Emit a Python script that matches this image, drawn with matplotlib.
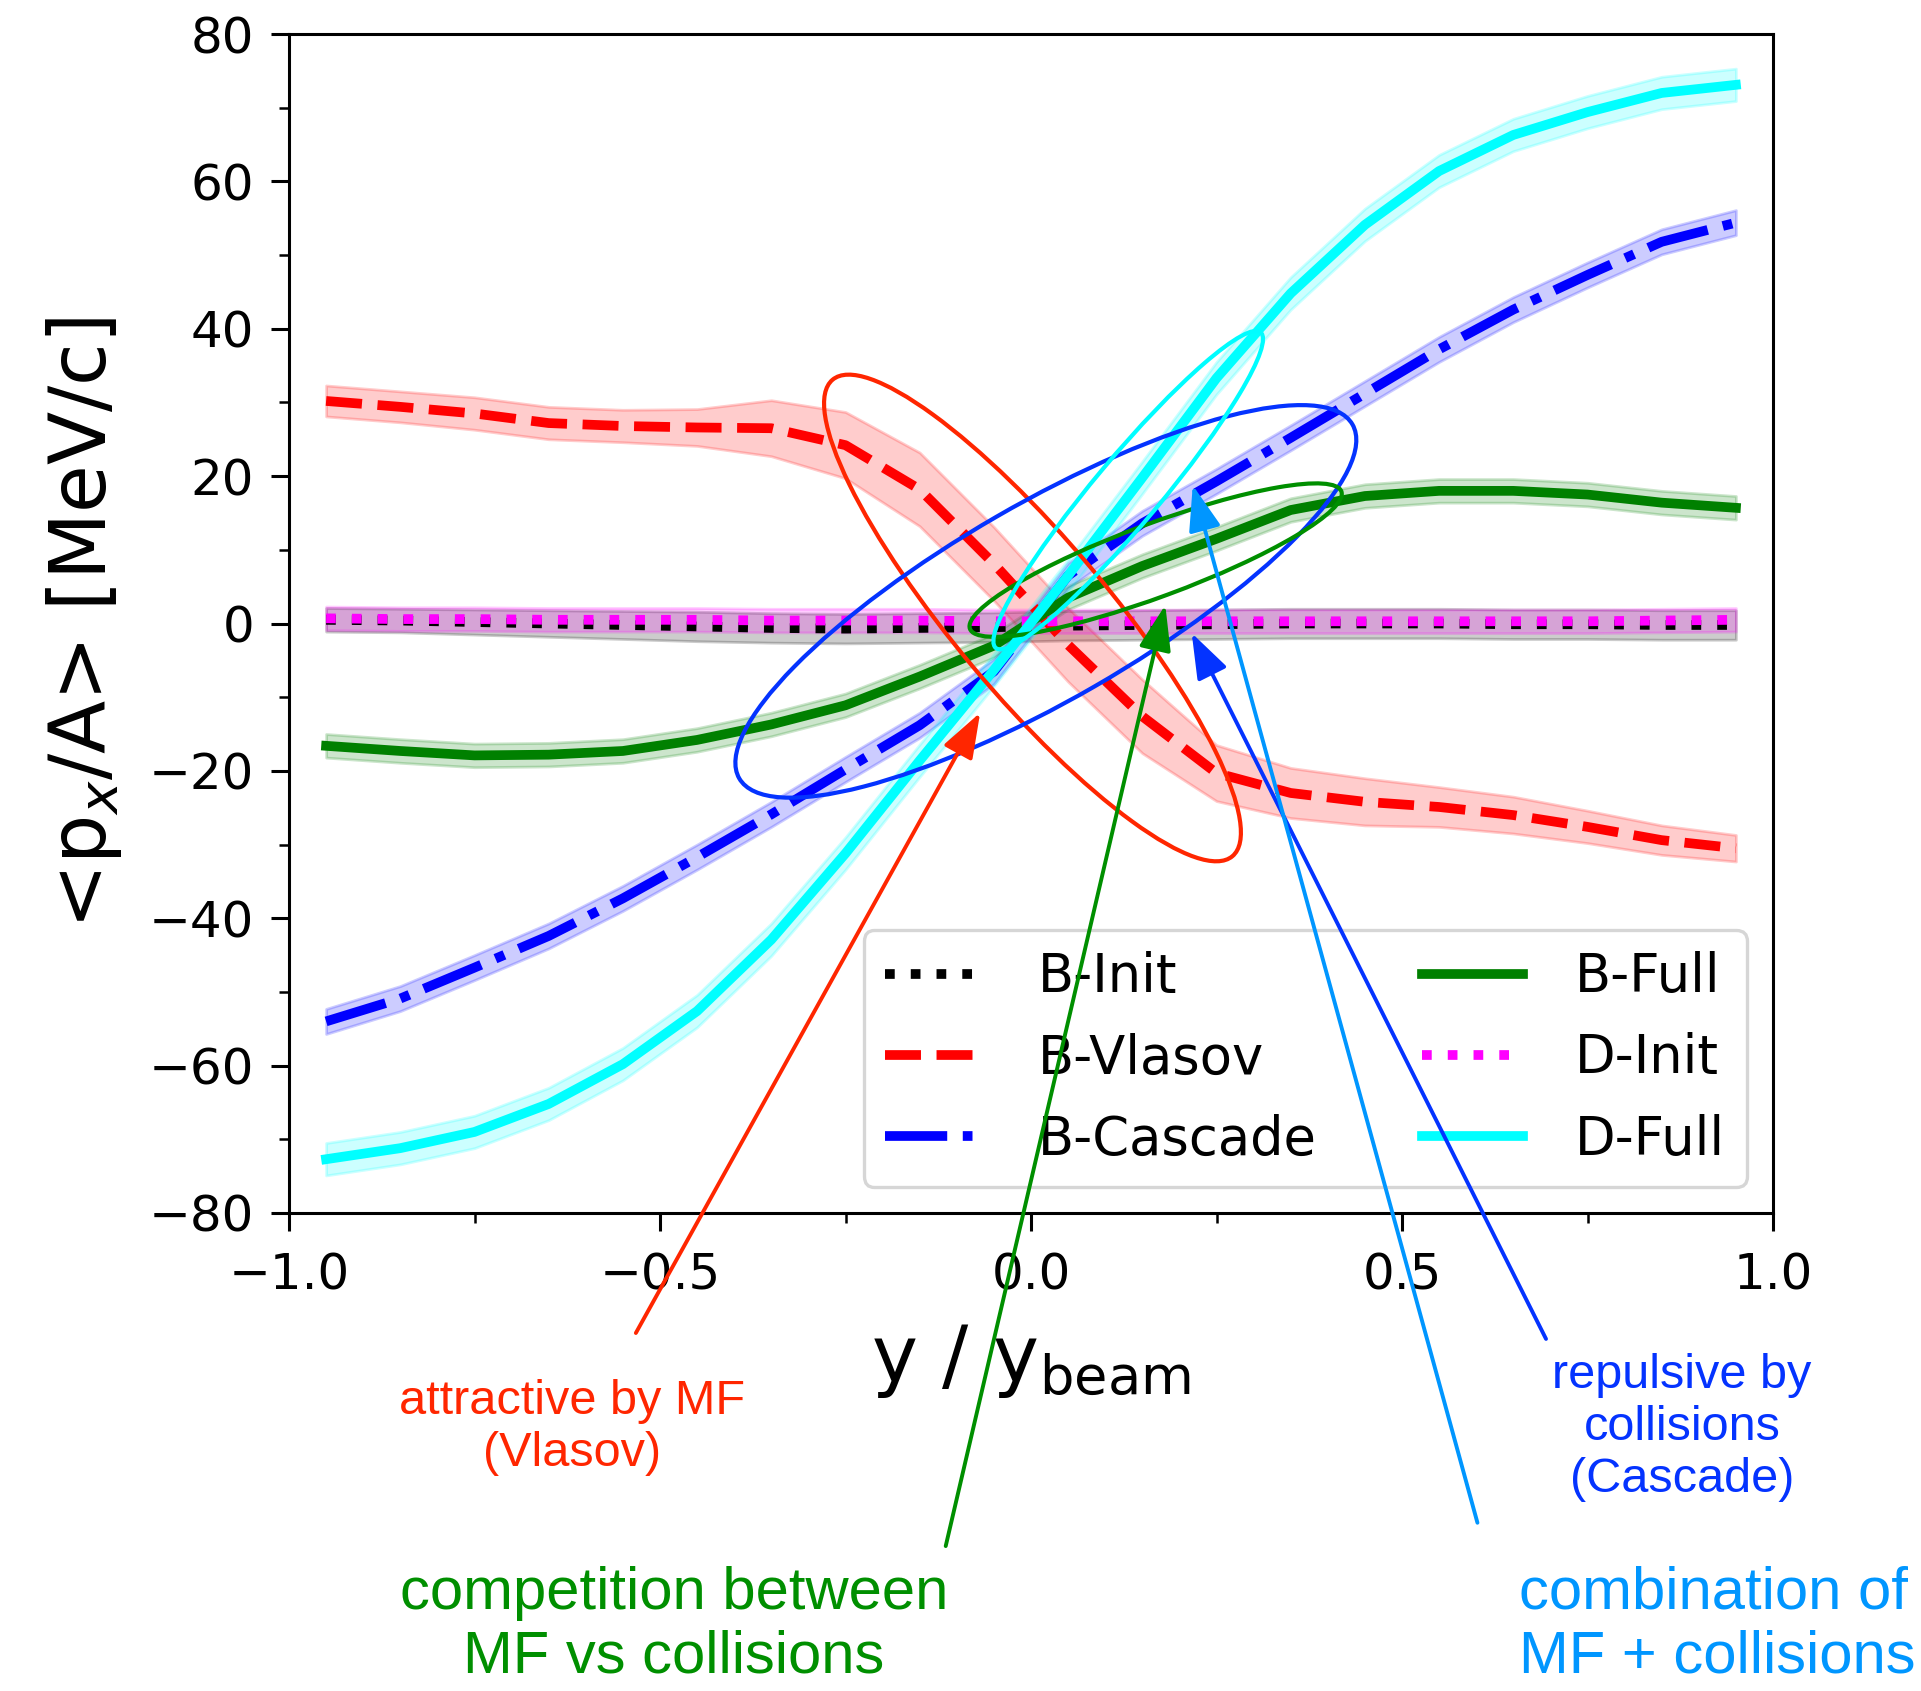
import numpy as np
import matplotlib
matplotlib.use("Agg")
import matplotlib.pyplot as plt
from matplotlib.patches import Ellipse
from matplotlib.transforms import ScaledTranslation
from matplotlib.ticker import MultipleLocator

# rapidity bins (y / y_beam)
y_red = [-0.95, -0.85, -0.75, -0.65, -0.55, -0.45, -0.35, -0.25, -0.15, -0.05,
         0.05, 0.15, 0.25, 0.35, 0.45, 0.55, 0.65, 0.75, 0.85, 0.95]

# <px/A> in MeV/c, with error bands
b_init = [0.5, 0.4, 0.2, 0.0, -0.2, -0.4, -0.6, -0.7, -0.6, -0.5,
          -0.3, -0.2, -0.1, 0.0, 0.0, 0.0, -0.1, -0.1, -0.2, -0.2]
b_init_err = [1.6, 1.6, 1.7, 1.8, 1.9, 2.0, 2.0, 2.0, 2.0, 2.0,
              2.0, 2.0, 2.0, 2.0, 2.0, 2.0, 2.0, 2.0, 2.0, 2.0]

b_vlasov = [30.2, 29.4, 28.5, 27.2, 26.8, 26.6, 26.5, 24.2, 18.2, 8.1,
            -2.9, -12.6, -20.3, -23.0, -24.2, -24.9, -26.0, -27.6, -29.4, -30.5]
b_vlasov_err = [2.1, 2.1, 2.2, 2.2, 2.2, 2.5, 3.8, 4.5, 5.0, 5.0,
                5.0, 5.0, 3.8, 3.4, 3.2, 2.7, 2.5, 2.2, 2.0, 1.8]

b_cascade = [-54.0, -50.9, -46.7, -42.4, -37.3, -31.7, -25.9, -19.8, -13.8, -6.5,
             6.5, 13.6, 19.3, 25.2, 31.2, 37.2, 42.6, 47.3, 51.8, 54.4]
b_cascade_err = [1.7] * 20

b_full = [-16.6, -17.3, -17.9, -17.8, -17.3, -15.8, -13.7, -11.1, -7.2, -3.0,
          3.5, 7.8, 11.5, 15.4, 17.3, 18.0, 18.0, 17.5, 16.4, 15.7]
b_full_err = [1.6] * 20

d_init = [0.7, 0.6, 0.6, 0.5, 0.5, 0.5, 0.4, 0.4, 0.4, 0.3,
          0.3, 0.3, 0.3, 0.3, 0.3, 0.3, 0.3, 0.3, 0.4, 0.5]
d_init_err = [1.6] * 20

d_full = [-72.7, -71.2, -69.0, -65.2, -59.8, -52.6, -42.9, -31.2, -18.6, -6.3,
          6.5, 19.8, 33.3, 44.8, 54.1, 61.4, 66.3, 69.4, 72.0, 73.1]
d_full_err = [2.2] * 20

series = [
    ("B-Init", b_init, b_init_err, "black", ":"),
    ("B-Vlasov", b_vlasov, b_vlasov_err, "red", "--"),
    ("B-Cascade", b_cascade, b_cascade_err, "blue", "-."),
    ("B-Full", b_full, b_full_err, "green", "-"),
    ("D-Init", d_init, d_init_err, "magenta", ":"),
    ("D-Full", d_full, d_full_err, "cyan", "-"),
]

fig = plt.figure(figsize=(19.21, 16.91), dpi=100)
ax = fig.add_axes([289 / 1921, 1 - 1213 / 1691, 1484 / 1921, 1179 / 1691])

x = np.array(y_red)
for name, val, err, col, ls in series:
    val = np.array(val)
    err = np.array(err)
    ax.fill_between(x, val - err, val + err, color=col, alpha=0.2, lw=2)
    ax.plot(x, val, ls=ls, color=col, lw=7, label=name)

ax.set_xlim(-1, 1)
ax.set_ylim(-80, 80)
ax.xaxis.set_major_locator(MultipleLocator(0.5))
ax.xaxis.set_minor_locator(MultipleLocator(0.25))
ax.yaxis.set_major_locator(MultipleLocator(20))
ax.yaxis.set_minor_locator(MultipleLocator(10))
ax.tick_params(which="major", length=13, width=2.2, labelsize=36)
ax.tick_params(which="minor", length=7, width=1.8)
ax.tick_params(axis="x", which="major", pad=15)
ax.tick_params(axis="y", which="major", pad=12)
for sp in ax.spines.values():
    sp.set_linewidth(2.2)

ax.set_xlabel(r"y / y$_\mathrm{beam}$", fontsize=56, labelpad=16)
ax.set_ylabel(r"<p$_x$/A> [MeV/c]", fontsize=56, labelpad=18)

leg = ax.legend(loc="lower right", ncol=2, fontsize=38, labelspacing=0.55,
                handlelength=1.9, handletextpad=1.0)
leg.get_frame().set_linewidth(2.4)


def ring(cx, cy, w, h, angle, col):
    # ellipse sized in inches, centred on a data point
    tr = fig.dpi_scale_trans + ScaledTranslation(cx, cy, ax.transData)
    ax.add_patch(Ellipse((0, 0), w, h, angle=angle, transform=tr, fill=False,
                         ec=col, lw=3.0, zorder=4, clip_on=False))


ring(0.002, 0.75, 6.22, 1.54, -50, "#ff2600")
ring(0.020, 3.0, 7.08, 1.96, 30, "#0433ff")
ring(0.168, 8.6, 3.96, 0.73, 20.3, "#008f00")
ring(0.131, 18.1, 4.12, 0.66, 50, "#00fdff")


def pointer(tip, tail, col):
    ax.annotate("", xy=tip, xycoords="data", xytext=tail,
                textcoords="figure fraction", annotation_clip=False, zorder=6,
                arrowprops=dict(arrowstyle="-|>,head_length=0.7,head_width=0.25",
                                color=col, lw=2.8, shrinkA=0, shrinkB=0,
                                mutation_scale=40))


pointer((-0.0685, -12.1), (0.331, 0.2117), "#ff2600")
pointer((0.181, 2.5), (0.4923, 0.0857), "#008f00")
pointer((0.2166, -1.3), (0.8048, 0.2082), "#0433ff")
pointer((0.218, 18.75), (0.7691, 0.0995), "#0096ff")

fnt = "Liberation Sans"
fig.text(572 / 1921, 1 - 1427 / 1691, "attractive by MF\n(Vlasov)", ha="center",
         va="center", fontsize=35, color="#ff2600", family=fnt, linespacing=1.2)
fig.text(1682 / 1921, 1 - 1428 / 1691, "repulsive by\ncollisions\n(Cascade)",
         ha="center", va="center", fontsize=35, color="#0433ff", family=fnt,
         linespacing=1.2)
fig.text(674 / 1921, 1 - 1625 / 1691, "competition between\nMF vs collisions",
         ha="center", va="center", fontsize=43, color="#008f00", family=fnt,
         linespacing=1.2)
fig.text(1519 / 1921, 1 - 1625 / 1691, "combination of\nMF + collisions",
         ha="left", va="center", fontsize=43, color="#0096ff", family=fnt,
         linespacing=1.2)

fig.savefig("out.png", dpi=100)
